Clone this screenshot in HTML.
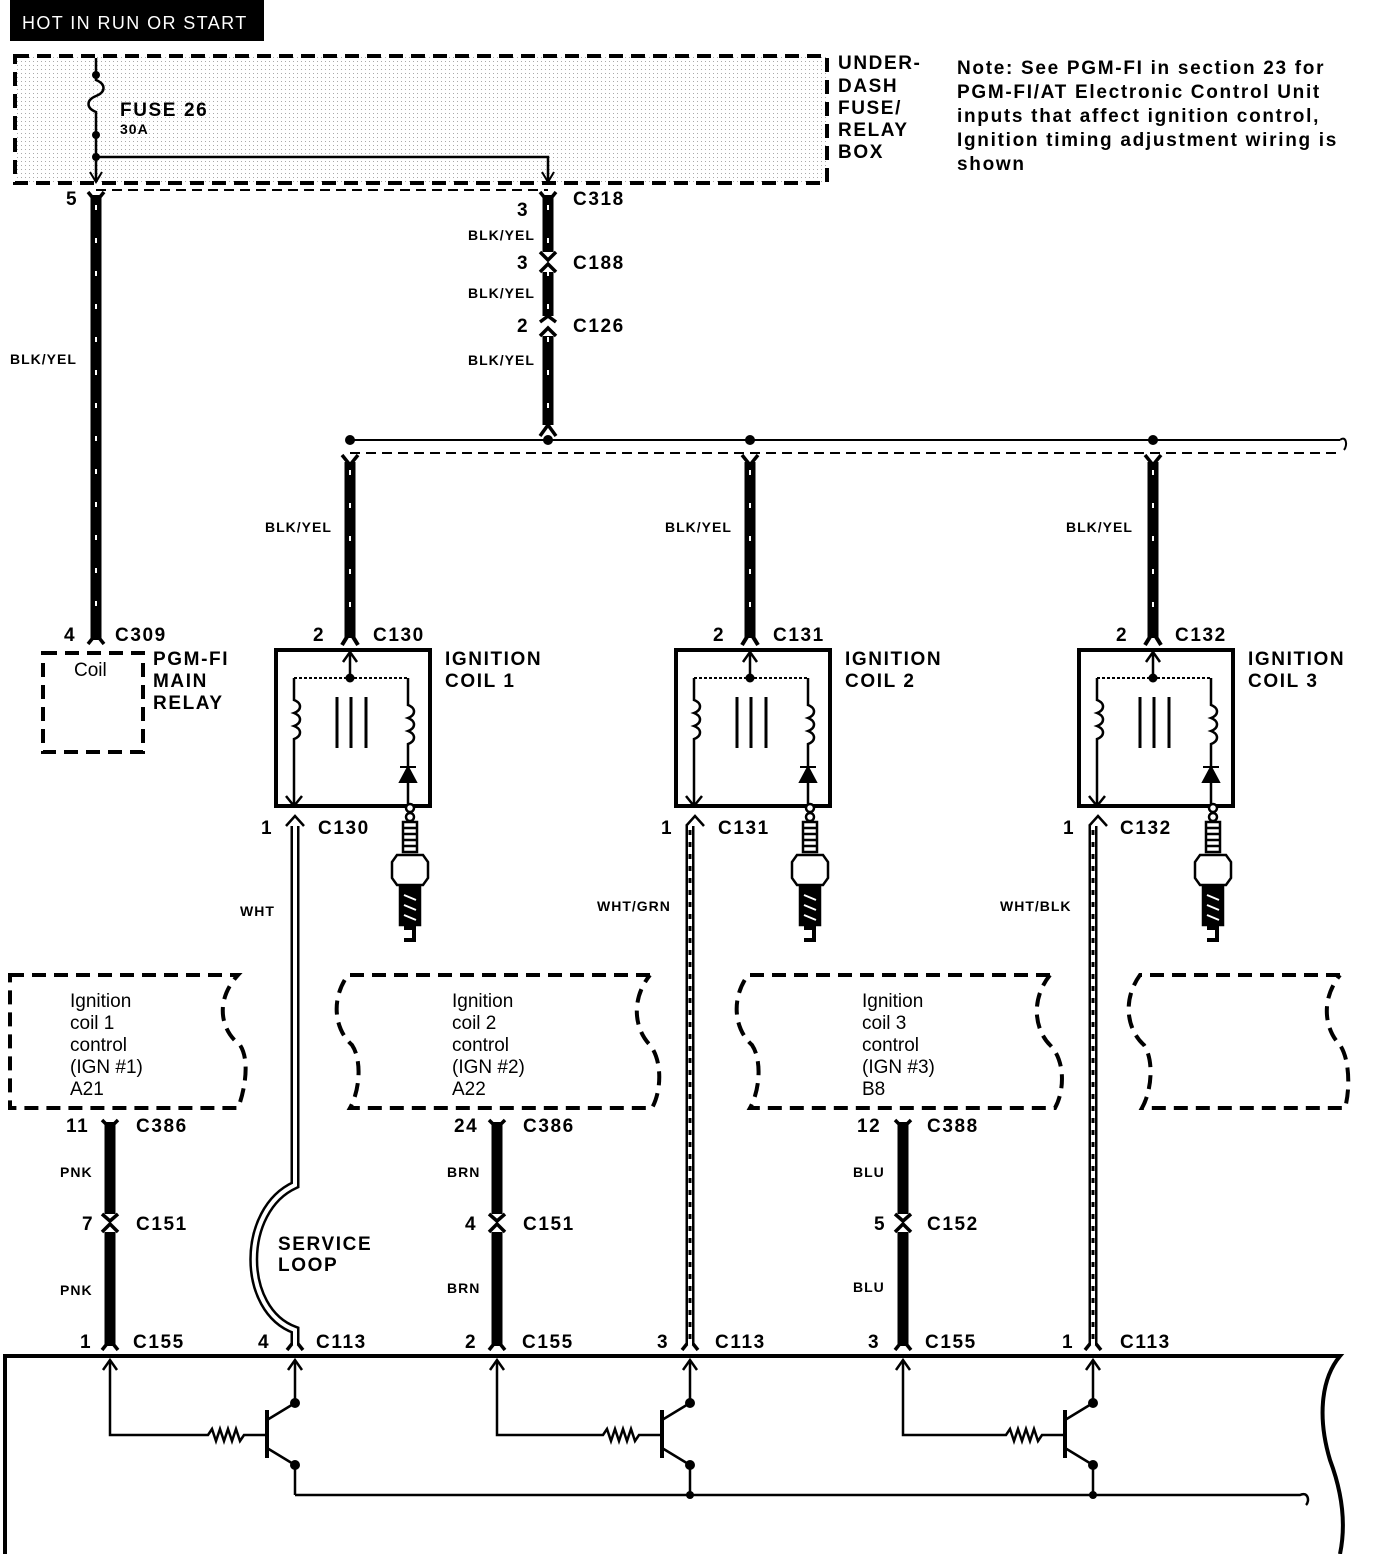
<!DOCTYPE html>
<html><head><meta charset="utf-8"><style>
html,body{margin:0;padding:0;background:#fff}
svg{display:block}
text{font-family:"Liberation Sans",sans-serif;font-weight:bold;fill:#000}
.l{font-size:19px;letter-spacing:1.6px}
.nt{font-size:19px;letter-spacing:1.7px}
.s{font-size:14px;letter-spacing:1px}
.n{font-size:19px;font-weight:normal}
</style></head><body>
<svg width="1376" height="1554" viewBox="0 0 1376 1554" xmlns="http://www.w3.org/2000/svg">
<defs>
<pattern id="dots" width="4" height="4" patternUnits="userSpaceOnUse"><rect x="1" y="1" width="1" height="1" fill="#aaa"/></pattern>
</defs>
<rect x="10" y="0" width="254" height="41" fill="#000"/>
<text x="22" y="29" style="font-size:18px;font-weight:normal;fill:#fff;letter-spacing:1.4px">HOT IN RUN OR START</text>
<rect x="15" y="56" width="812" height="127" fill="url(#dots)" stroke="#000" stroke-width="4" stroke-dasharray="14 8"/>
<g fill="none" stroke="#000" stroke-width="2.5">
<path d="M96,58 V80 C106,84 106,92 96,96 C86,100 86,108 96,112 V157 H548 V180"/>
<path d="M96,157 V182"/>
</g>
<circle cx="96" cy="75" r="4"/><circle cx="96" cy="135" r="4"/><circle cx="96" cy="157" r="4"/>
<path d="M542,172 L548,182 L554,172" fill="none" stroke="#000" stroke-width="2"/>
<path d="M90,172 L96,182 L102,172" fill="none" stroke="#000" stroke-width="2"/>
<text x="120" y="116" class="l">FUSE 26</text>
<text x="120" y="134" class="s">30A</text>
<text x="838" y="69" class="l">UNDER-</text>
<text x="838" y="92" class="l">DASH</text>
<text x="838" y="114" class="l">FUSE/</text>
<text x="838" y="136" class="l">RELAY</text>
<text x="838" y="158" class="l">BOX</text>
<text x="957" y="74" class="nt">Note: See PGM-FI in section 23 for</text>
<text x="957" y="98" class="nt">PGM-FI/AT Electronic Control Unit</text>
<text x="957" y="122" class="nt">inputs that affect ignition control,</text>
<text x="957" y="146" class="nt">Ignition timing adjustment wiring is</text>
<text x="957" y="170" class="nt">shown</text>
<line x1="96" y1="190" x2="548" y2="190" stroke="#000" stroke-width="2" stroke-dasharray="10 6"/>
<g stroke="#000" stroke-width="11" fill="none">
<path d="M96,195 V640"/>
<path d="M548,195 V252 M548,272 V316 M548,336 V425"/>
<path d="M350,462 V638 M750,462 V638 M1153,462 V638"/>
<path d="M110,1122 V1214 M110,1232 V1346"/>
<path d="M497,1122 V1214 M497,1232 V1346"/>
<path d="M903,1122 V1214 M903,1232 V1346"/>
</g>
<g stroke="#fff" stroke-width="2" stroke-dasharray="5 28">
<path d="M96,205 V630"/><path d="M548,205 V420"/>
<path d="M350,470 V630 M750,470 V630 M1153,470 V630"/>
</g>
<g fill="none" stroke="#000" stroke-width="3.5">
<path d="M88,192 L96,202 L104,192"/>
<path d="M540,192 L548,202 L556,192"/>
<path d="M540,252 L548,260 L556,252 M540,272 L548,264 L556,272"/>
<path d="M540,322 L548,316 L556,322 M540,336 L548,328 L556,336"/>
<path d="M540,436 L548,425 L556,436"/>
<path d="M88,644 L96,634 L104,644"/>
<path d="M342,455 L350,465 L358,455 M742,455 L750,465 L758,455 M1145,455 L1153,465 L1161,455"/>
<path d="M102,1120 L110,1128 L118,1120 M489,1120 L497,1128 L505,1120 M895,1120 L903,1128 L911,1120"/>
<path d="M102,1214 L110,1221 L118,1214 M102,1232 L110,1224 L118,1232"/>
<path d="M489,1214 L497,1221 L505,1214 M489,1232 L497,1224 L505,1232"/>
<path d="M895,1214 L903,1221 L911,1214 M895,1232 L903,1224 L911,1232"/>
<path d="M102,1350 L110,1340 L118,1350 M489,1350 L497,1340 L505,1350 M895,1350 L903,1340 L911,1350"/>
<path d="M287,1350 L295,1340 L303,1350 M682,1350 L690,1340 L698,1350 M1085,1350 L1093,1340 L1101,1350"/>
</g>
<text x="66" y="205" class="l">5</text>
<text x="10" y="364" class="s">BLK/YEL</text>
<text x="517" y="216" class="l">3</text><text x="573" y="205" class="l">C318</text>
<text x="468" y="240" class="s">BLK/YEL</text>
<text x="517" y="269" class="l">3</text><text x="573" y="269" class="l">C188</text>
<text x="468" y="298" class="s">BLK/YEL</text>
<text x="517" y="332" class="l">2</text><text x="573" y="332" class="l">C126</text>
<text x="468" y="365" class="s">BLK/YEL</text>
<line x1="350" y1="440" x2="1340" y2="440" stroke="#000" stroke-width="2"/>
<line x1="350" y1="453" x2="1340" y2="453" stroke="#000" stroke-width="2" stroke-dasharray="10 6"/>
<path d="M1340,440 c6,-5 8,5 4,10" fill="none" stroke="#000" stroke-width="2"/>
<circle cx="350" cy="440" r="5"/><circle cx="548" cy="440" r="5"/><circle cx="750" cy="440" r="5"/><circle cx="1153" cy="440" r="5"/>
<text x="265" y="532" class="s">BLK/YEL</text>
<text x="665" y="532" class="s">BLK/YEL</text>
<text x="1066" y="532" class="s">BLK/YEL</text>
<text x="64" y="641" class="l">4</text><text x="115" y="641" class="l">C309</text>
<rect x="43" y="653" width="100" height="99" fill="none" stroke="#000" stroke-width="4" stroke-dasharray="14 8"/>
<text x="74" y="676" class="n">Coil</text>
<text x="153" y="665" class="l">PGM-FI</text>
<text x="153" y="687" class="l">MAIN</text>
<text x="153" y="709" class="l">RELAY</text>
<g id="c1">
<path d="M342,645 L350,632 L358,645" fill="none" stroke="#000" stroke-width="4"/>
<rect x="276" y="650" width="154" height="156" fill="none" stroke="#000" stroke-width="4"/>
<line x1="294" y1="678" x2="408" y2="678" stroke="#000" stroke-width="2" stroke-dasharray="3 2"/>
<circle cx="350" cy="678" r="4.5"/>
<g fill="none" stroke="#000" stroke-width="2.5">
<path d="M350,678 V652 M343,662 L350,652 L357,662"/>
<path d="M294,678 V700 c8,3 8,10 0,13 c8,3 8,10 0,13 c8,3 8,10 0,13 V806 M286,796 L294,806 L302,796"/>
<path d="M408,678 V705 c8,3 8,10 0,13 c8,3 8,10 0,13 c8,3 8,10 0,13 V808"/>
<path d="M337,697 V748 M351,697 V748 M366,697 V748" stroke-width="3"/>
<path d="M286,826 L295,816 L304,826"/>
</g>
<path d="M400,782 L408,767 L416,782 Z M400,767 H416" stroke="#000" stroke-width="2"/>
<g stroke="#000" stroke-width="2.5" fill="#fff">
<circle cx="410" cy="808" r="4"/><circle cx="410" cy="817" r="4"/>
<rect x="403" y="822" width="14" height="30"/>
<path d="M403,828 H417 M403,834 H417 M403,840 H417 M403,846 H417"/>
<path d="M397,855 H423 L428,862 V878 L423,885 H397 L392,878 V862 Z"/>
<rect x="400" y="887" width="20" height="38" fill="#000"/>
<path d="M404,895 L416,900 M404,905 L416,910 M404,915 L416,920" stroke="#fff" stroke-width="2"/>
<path d="M404,928 H414 V940 H404" fill="none" stroke-width="4"/>
</g>
</g>
<use href="#c1" transform="translate(400,0)"/>
<use href="#c1" transform="translate(803,0)"/>
<text x="313" y="641" class="l">2</text><text x="373" y="641" class="l">C130</text>
<text x="713" y="641" class="l">2</text><text x="773" y="641" class="l">C131</text>
<text x="1116" y="641" class="l">2</text><text x="1175" y="641" class="l">C132</text>
<text x="445" y="665" class="l">IGNITION</text><text x="445" y="687" class="l">COIL 1</text>
<text x="845" y="665" class="l">IGNITION</text><text x="845" y="687" class="l">COIL 2</text>
<text x="1248" y="665" class="l">IGNITION</text><text x="1248" y="687" class="l">COIL 3</text>
<text x="261" y="834" class="l">1</text><text x="318" y="834" class="l">C130</text>
<text x="661" y="834" class="l">1</text><text x="718" y="834" class="l">C131</text>
<text x="1063" y="834" class="l">1</text><text x="1120" y="834" class="l">C132</text>
<g fill="none">
<path d="M295,826 V1185 C240,1210 240,1310 295,1330 V1345" stroke="#000" stroke-width="9"/>
<path d="M295,826 V1185 C240,1210 240,1310 295,1330 V1345" stroke="#fff" stroke-width="4"/>
<path d="M690,826 V1345 M1093,826 V1345" stroke="#000" stroke-width="9"/>
<path d="M690,826 V1345 M1093,826 V1345" stroke="#fff" stroke-width="4"/>
<path d="M690,830 V1340 M1093,830 V1340" stroke="#000" stroke-width="3" stroke-dasharray="5 7"/>
</g>
<text x="240" y="916" class="s">WHT</text>
<text x="597" y="911" class="s">WHT/GRN</text>
<text x="1000" y="911" class="s">WHT/BLK</text>
<text x="278" y="1250" class="l">SERVICE</text>
<text x="278" y="1271" class="l">LOOP</text>
<g fill="none" stroke="#000" stroke-width="4" stroke-dasharray="14 8">
<path d="M10,975 H238 C215,1000 220,1030 240,1045 C250,1060 245,1090 238,1108 H10 Z"/>
<path d="M650,975 H348 C330,1000 335,1030 352,1045 C362,1060 360,1090 350,1108 H652 C662,1090 662,1060 650,1045 C635,1030 630,1000 650,975"/>
<path d="M1050,975 H748 C730,1000 735,1030 752,1045 C762,1060 760,1090 750,1108 H1055 C1065,1090 1065,1060 1050,1045 C1035,1030 1030,1000 1050,975"/>
<path d="M1340,975 H1140 C1122,1000 1127,1030 1144,1045 C1154,1060 1152,1090 1142,1108 H1345 C1350,1090 1350,1060 1340,1045 C1325,1030 1320,1000 1340,975"/>
</g>
<text x="70" y="1007" class="n">Ignition</text><text x="70" y="1029" class="n">coil 1</text><text x="70" y="1051" class="n">control</text><text x="70" y="1073" class="n">(IGN #1)</text><text x="70" y="1095" class="n">A21</text>
<text x="452" y="1007" class="n">Ignition</text><text x="452" y="1029" class="n">coil 2</text><text x="452" y="1051" class="n">control</text><text x="452" y="1073" class="n">(IGN #2)</text><text x="452" y="1095" class="n">A22</text>
<text x="862" y="1007" class="n">Ignition</text><text x="862" y="1029" class="n">coil 3</text><text x="862" y="1051" class="n">control</text><text x="862" y="1073" class="n">(IGN #3)</text><text x="862" y="1095" class="n">B8</text>
<text x="66" y="1132" class="l">11</text><text x="136" y="1132" class="l">C386</text>
<text x="60" y="1177" class="s">PNK</text>
<text x="82" y="1230" class="l">7</text><text x="136" y="1230" class="l">C151</text>
<text x="60" y="1295" class="s">PNK</text>
<text x="454" y="1132" class="l">24</text><text x="523" y="1132" class="l">C386</text>
<text x="447" y="1177" class="s">BRN</text>
<text x="465" y="1230" class="l">4</text><text x="523" y="1230" class="l">C151</text>
<text x="447" y="1293" class="s">BRN</text>
<text x="857" y="1132" class="l">12</text><text x="927" y="1132" class="l">C388</text>
<text x="853" y="1177" class="s">BLU</text>
<text x="874" y="1230" class="l">5</text><text x="927" y="1230" class="l">C152</text>
<text x="853" y="1292" class="s">BLU</text>
<text x="80" y="1348" class="l">1</text><text x="133" y="1348" class="l">C155</text>
<text x="258" y="1348" class="l">4</text><text x="316" y="1348" class="l">C113</text>
<text x="465" y="1348" class="l">2</text><text x="522" y="1348" class="l">C155</text>
<text x="657" y="1348" class="l">3</text><text x="715" y="1348" class="l">C113</text>
<text x="868" y="1348" class="l">3</text><text x="925" y="1348" class="l">C155</text>
<text x="1062" y="1348" class="l">1</text><text x="1120" y="1348" class="l">C113</text>
<path d="M5,1554 V1356 H1340 C1320,1380 1318,1420 1330,1460 C1345,1500 1345,1530 1340,1554" fill="none" stroke="#000" stroke-width="4"/>
<g fill="none" stroke="#000" stroke-width="2.5">
<path d="M110,1360 V1435 H208 l4,-6 l4,12 l4,-12 l4,12 l4,-12 l4,12 l4,-12 l4,12 l4,-6 H266"/>
<path d="M267,1410 V1458" stroke-width="4"/>
<path d="M267,1420 L295,1403 V1360 M267,1448 L295,1465 V1495"/>
<path d="M103,1370 L110,1360 L117,1370 M288,1370 L295,1360 L302,1370"/>
<path d="M497,1360 V1435 H603 l4,-6 l4,12 l4,-12 l4,12 l4,-12 l4,12 l4,-12 l4,12 l4,-6 H661"/>
<path d="M662,1410 V1458" stroke-width="4"/>
<path d="M662,1420 L690,1403 V1360 M662,1448 L690,1465 V1495"/>
<path d="M490,1370 L497,1360 L504,1370 M683,1370 L690,1360 L697,1370"/>
<path d="M903,1360 V1435 H1006 l4,-6 l4,12 l4,-12 l4,12 l4,-12 l4,12 l4,-12 l4,12 l4,-6 H1064"/>
<path d="M1065,1410 V1458" stroke-width="4"/>
<path d="M1065,1420 L1093,1403 V1360 M1065,1448 L1093,1465 V1495"/>
<path d="M896,1370 L903,1360 L910,1370 M1086,1370 L1093,1360 L1100,1370"/>
<path d="M295,1495 H1300 c8,-4 10,6 6,10"/>
</g>
<circle cx="295" cy="1403" r="5"/><circle cx="295" cy="1465" r="5"/>
<circle cx="690" cy="1403" r="5"/><circle cx="690" cy="1465" r="5"/><circle cx="690" cy="1495" r="4"/>
<circle cx="1093" cy="1403" r="5"/><circle cx="1093" cy="1465" r="5"/><circle cx="1093" cy="1495" r="4"/>
</svg>
</body></html>
